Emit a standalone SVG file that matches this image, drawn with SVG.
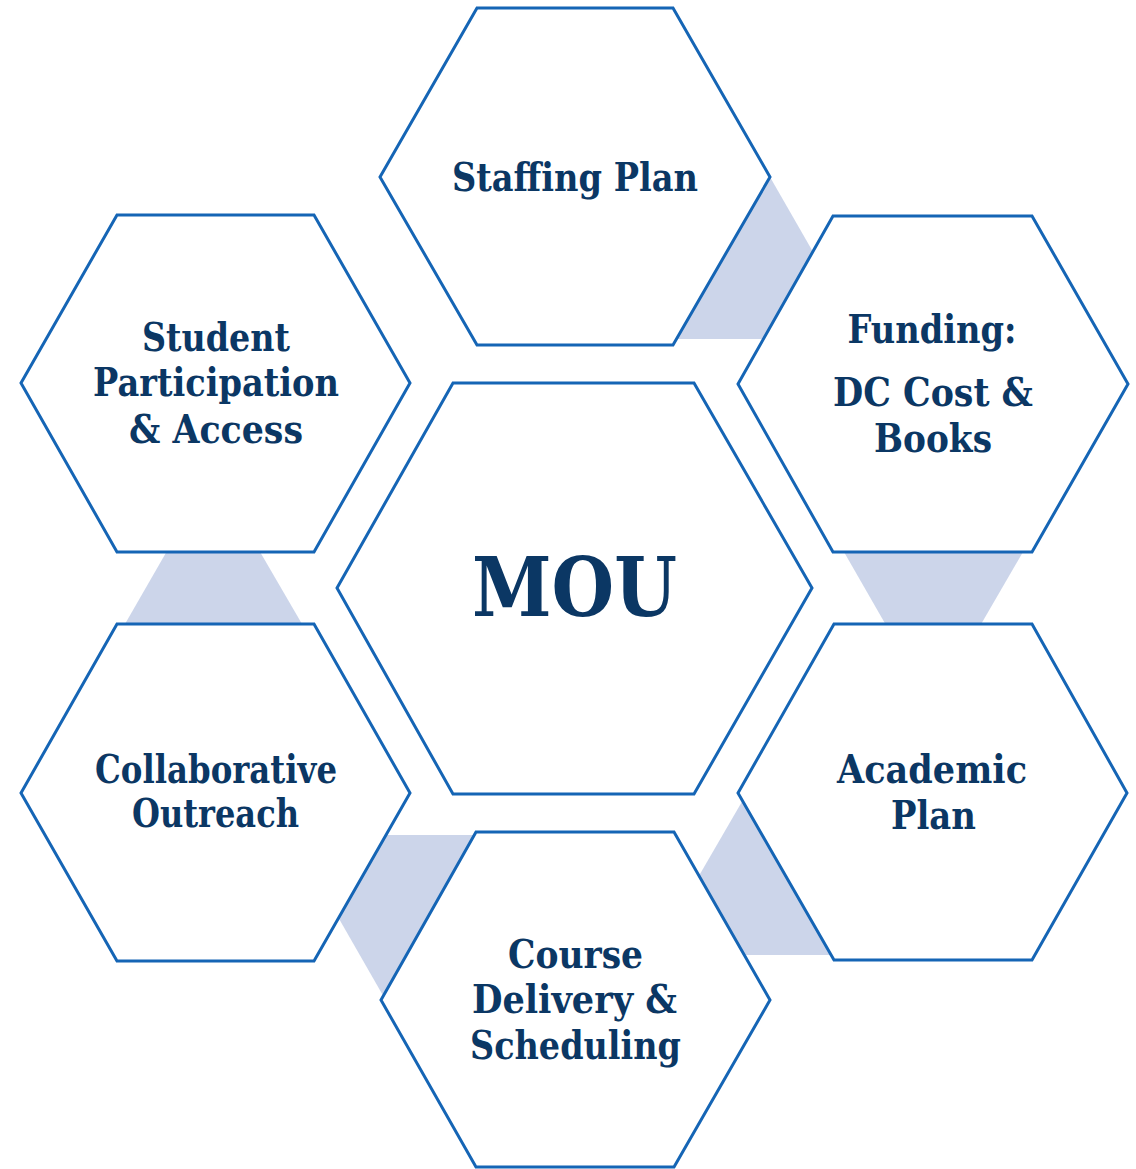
<svg xmlns="http://www.w3.org/2000/svg" width="1136" height="1169" viewBox="0 0 1136 1169">
<style>
.hex{fill:#ffffff;stroke:#1565b5;stroke-width:3;stroke-linejoin:miter}
.band{fill:#ccd5ea}
.t{font-family:"DejaVu Serif","Liberation Serif",serif;font-weight:bold;font-size:40px;fill:#0b3764;text-anchor:middle}
.big{font-size:82px}
</style>
<rect width="1136" height="1169" fill="#ffffff"/>
<g id="connectors">
<polygon class="band" points="770,177 863,339 676,339"/>
<polygon class="band" points="844,552 1023,552 933,707"/>
<polygon class="band" points="125,624 302,624 213,471"/>
<polygon class="band" points="291,835 479,835 385,999"/>
<polygon class="band" points="747,793 840,955 653,955"/>
</g>
<g id="staffing">
<polygon class="hex" points="380,177 477,8 673,8 770,177 673,345 477,345"/>
<text class="t" x="575" y="191" textLength="246" lengthAdjust="spacingAndGlyphs">Staffing Plan</text>
</g>
<g id="funding">
<polygon class="hex" points="738,384 833,216 1032,216 1128,384 1032,552 833,552"/>
<text class="t" x="932" y="343" textLength="169" lengthAdjust="spacingAndGlyphs">Funding:</text>
<text class="t" x="933" y="406" textLength="200" lengthAdjust="spacingAndGlyphs">DC Cost &amp;</text>
<text class="t" x="933" y="452" textLength="118" lengthAdjust="spacingAndGlyphs">Books</text>
</g>
<g id="student">
<polygon class="hex" points="21,383 117,215 314,215 410,383 314,552 117,552"/>
<text class="t" x="216" y="351" textLength="148" lengthAdjust="spacingAndGlyphs">Student</text>
<text class="t" x="216" y="396" textLength="246" lengthAdjust="spacingAndGlyphs">Participation</text>
<text class="t" x="216" y="443" textLength="174" lengthAdjust="spacingAndGlyphs">&amp; Access</text>
</g>
<g id="mou">
<polygon class="hex" points="337,588 453,383 694,383 812,588 694,794 453,794"/>
<text class="t big" x="574.5" y="616" textLength="205" lengthAdjust="spacingAndGlyphs">MOU</text>
</g>
<g id="collaborative">
<polygon class="hex" points="21,793 117,624 314,624 410,793 314,961 117,961"/>
<text class="t" x="216" y="783" textLength="242" lengthAdjust="spacingAndGlyphs">Collaborative</text>
<text class="t" x="215.5" y="827" textLength="167" lengthAdjust="spacingAndGlyphs">Outreach</text>
</g>
<g id="academic">
<polygon class="hex" points="738,793 834,624 1032,624 1127,793 1032,960 834,960"/>
<text class="t" x="932" y="783" textLength="190" lengthAdjust="spacingAndGlyphs">Academic</text>
<text class="t" x="933.5" y="829" textLength="85" lengthAdjust="spacingAndGlyphs">Plan</text>
</g>
<g id="course">
<polygon class="hex" points="381,1000 476,832 674,832 770,1000 674,1167 476,1167"/>
<text class="t" x="575.5" y="968" textLength="135" lengthAdjust="spacingAndGlyphs">Course</text>
<text class="t" x="574.5" y="1013" textLength="205" lengthAdjust="spacingAndGlyphs">Delivery &amp;</text>
<text class="t" x="575.5" y="1059" textLength="211" lengthAdjust="spacingAndGlyphs">Scheduling</text>
</g>
</svg>
